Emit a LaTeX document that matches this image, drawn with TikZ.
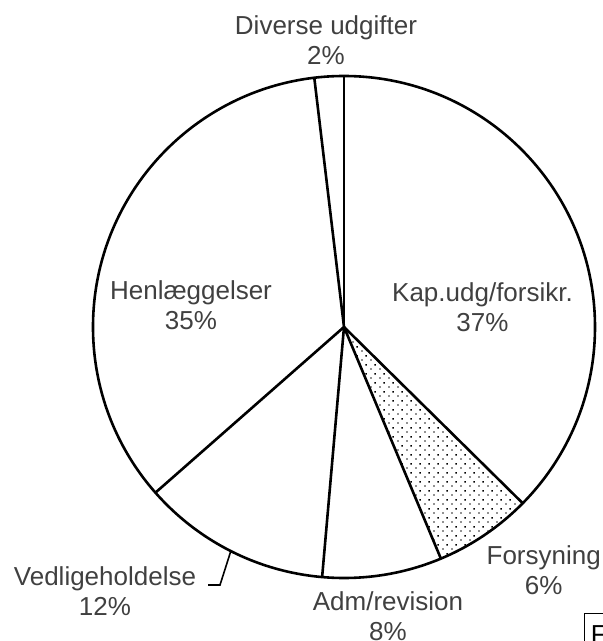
\documentclass[tikz,border=0pt]{standalone}
\usepackage{fontspec}
\setmainfont{Liberation Sans}
\usetikzlibrary{patterns.meta,positioning,calc}
\definecolor{textgrey}{HTML}{404040}
\tikzdeclarepattern{
  name=stipple,
  type=uncolored,
  bounding box={(0pt,0pt) and (9pt,9pt)},
  tile size={(9pt,9pt)},
  code={
    \fill (1.5pt,1.5pt) rectangle (3pt,3pt);
    \fill (6pt,6pt) rectangle (7.5pt,7.5pt);
  }
}
\tikzstyle{slice} = [draw,line width=2.6pt,line join=round]
\tikzstyle{share} = [align=center,anchor=base,inner sep=0,text=textgrey,font=\fontsize{26}{30}\selectfont]
\tikzstyle{leader} = [-,line width=1.6pt]
\tikzstyle{tag} = [draw,line width=1pt,anchor=north west,minimum width=60pt,minimum height=60pt]
\def \pr {251}

\begin{document}
\begin{tikzpicture}[x=1pt,y=1pt]
      \useasboundingbox (0,0) rectangle (603,641);
      \clip (0,0) rectangle (603,641);
      \coordinate (o) at (344,314);
      \fill[pattern=stipple] (o) -- +(-44.6:\pr) arc[start angle=-44.6,end angle=-67.3,radius=\pr] -- cycle;
      \draw[slice] (o) circle[radius=\pr];
      \foreach \a in {90,-44.6,-67.3,-95,-138.7,96.8}
        \draw[slice] (o) -- +(\a:\pr);
      % base = baseline of the percentage line
      \node[share] (diverse) at (326,576) {Diverse udgifter\\2\%};
      \node[share] (kap) at (482.5,309.3) {Kap.udg/forsikr.\\37\%};
      \node[share] (henl) at (191,311) {Henlæggelser\\35\%};
      \node[share] (forsyning) at (543.7,46) {Forsyning\\6\%};
      \node[share] (adm) at (388,1) {Adm/revision\\8\%};
      \node[share] (vedl) at (105,26) {Vedligeholdelse\\12\%};
      \coordinate (vedlstart) at (208,56);
      \coordinate (vedlknee) at (220,56);
      \coordinate (vedltip) at ($(o)+(-116.8:\pr)$);
      \draw[leader] (vedlstart) -- (vedlknee) -- (vedltip);
      \node[tag] (box) at (584,28) {};
      \node[anchor=base west,inner sep=0,font=\fontsize{26}{30}\selectfont] (boxtext) at (590.7,-2.6) {F};
    \end{tikzpicture}
\end{document}
